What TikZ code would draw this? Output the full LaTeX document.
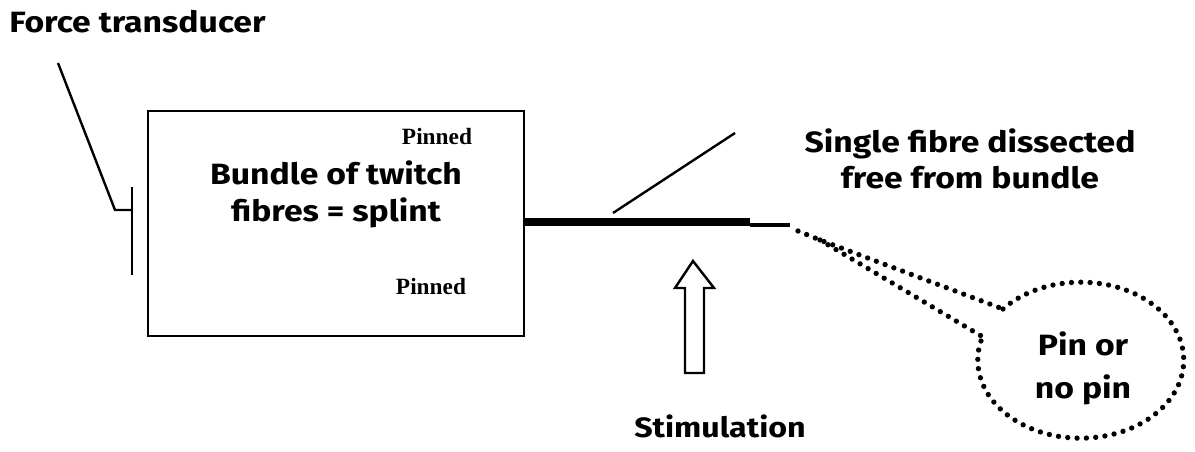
\documentclass[tikz,border=0pt]{standalone}
\usepackage{fontspec}
\newfontfamily\comicfont{Fira Sans}[FakeStretch=1.15]
\newfontfamily\timesfont{Liberation Serif}
\begin{document}
\begin{tikzpicture}[x=0.75pt,y=-0.75pt,
  lab/.style={font=\comicfont\bfseries\fontsize{22}{26}\selectfont, inner sep=0},
  pinlab/.style={font=\timesfont\bfseries\fontsize{17.5}{20}\selectfont, inner sep=0},
  ln/.style={line width=1.8pt},
  dots/.style={line width=4pt, line cap=round, dash pattern=on 0pt off 7pt}]
\useasboundingbox (0,0) rectangle (1195,452);

% labels
\node[lab, anchor=base west] (ft) at (9,33) {Force transducer};
\node[lab, anchor=base] (b1) at (336,185) {Bundle of twitch};
\node[lab, anchor=base] (b2) at (336,222) {fibres = splint};
\node[lab, anchor=base] (s1) at (970,153) {Single fibre dissected};
\node[lab, anchor=base] (s2) at (970,189) {free from bundle};
\node[lab, anchor=base, font=\comicfont\bfseries\fontsize{21}{26}\selectfont] (st) at (720,437) {Stimulation};
\node[lab, anchor=base] (p1) at (1083,355) {Pin or};
\node[lab, anchor=base] (p2) at (1083,398) {no pin};
\node[pinlab, anchor=base] (pt) at (437,145) {Pinned};
\node[pinlab, anchor=base] (pb) at (431,295) {Pinned};

% splint box
\node[draw, line width=2.2pt, minimum width=282pt, minimum height=168.75pt, inner sep=0] (box) at (336,223.5) {};

% force transducer
\coordinate (ftA) at (58,63);
\coordinate (ftB) at (115,210);
\coordinate (ftC) at (132,210);
\coordinate (ftT) at (132,187);
\coordinate (ftU) at (132,275);
\draw[ln] (ftA) -- (ftB) -- (ftC);
\draw[ln] (ftT) -- (ftU);

% fibre
\coordinate (f1) at (750,222);
\coordinate (f2) at (790,225);
\coordinate (f3) at (798,231);
\coordinate (fs) at (820,240);
\coordinate (fu) at (1003,309);
\coordinate (fl) at (983,337);
\draw[line width=5.5pt] (box.east |- f1) -- (f1);
\draw[line width=2.4pt] (f1 |- f2) -- (f2);
\draw[dots] (f3) -- (fs) -- (fu);
\draw[dots] (fs) -- (fl);

% bubble
\draw[dots] (fu) arc[start angle=221, end angle=556, x radius=103, y radius=78];

% pointer to single fibre label
\coordinate (sa) at (613,213);
\coordinate (sb) at (735,133);
\draw[ln] (sa) -- (sb);

% stimulation arrow
\draw[line width=1.8pt, line join=miter] (685,373) -- (685,288) -- (675,288) -- (693,261) -- (714,288) -- (704,288) -- (704,373) -- cycle;
\end{tikzpicture}
\end{document}
